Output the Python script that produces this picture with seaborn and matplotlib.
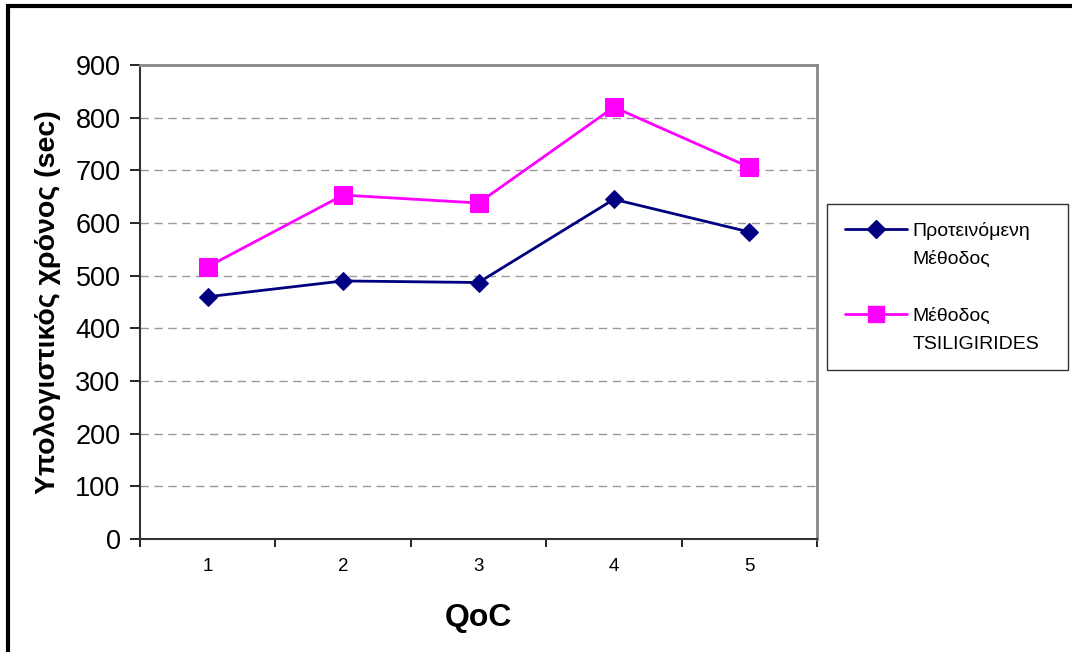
import matplotlib
matplotlib.use("Agg")
import matplotlib.pyplot as plt
import seaborn as sns
import pandas as pd
from matplotlib.patches import Rectangle
from matplotlib.lines import Line2D
from matplotlib.ticker import FixedLocator, NullFormatter

qoc = [1, 2, 3, 4, 5]
proposed = [460, 490, 487, 645, 583]
tsiligirides = [517, 653, 638, 820, 706]
series_names = ["Προτεινόμενη Μέθοδος", "Μέθοδος TSILIGIRIDES"]
legend_lines = [["Προτεινόμενη", "Μέθοδος"], ["Μέθοδος", "TSILIGIRIDES"]]
yticks = [0, 100, 200, 300, 400, 500, 600, 700, 800, 900]

df = pd.DataFrame({
    "QoC": qoc * 2,
    "value": proposed + tsiligirides,
    "series": [series_names[0]] * 5 + [series_names[1]] * 5,
})

sns.set_theme(style="white")
plt.rcParams["font.family"] = ["Liberation Sans", "DejaVu Sans"]
for k in ["text.color", "axes.labelcolor", "xtick.color", "ytick.color"]:
    plt.rcParams[k] = "black"

fig = plt.figure(figsize=(10.72, 6.52), dpi=100)
ax = fig.add_axes([140 / 1072, 1 - 539 / 652, (817 - 140) / 1072, (539 - 65) / 652])

palette = {series_names[0]: "#000080", series_names[1]: "#FF00FF"}
markers = {series_names[0]: "D", series_names[1]: "s"}
sizes_ms = {series_names[0]: 9.5, series_names[1]: 13}

for name in series_names:
    sub = df[df["series"] == name]
    sns.lineplot(data=sub, x="QoC", y="value", ax=ax, color=palette[name],
                 marker=markers[name], markersize=sizes_ms[name],
                 markeredgecolor=palette[name], linewidth=2.0, legend=False)

ax.set_xlim(0.5, 5.5)
ax.set_ylim(0, 900)
ax.set_yticks(yticks)
ax.set_yticklabels([str(v) for v in yticks], fontsize=19.5)
ax.set_xticks(qoc)
ax.set_xticklabels([str(v) for v in qoc], fontsize=13.5)
ax.tick_params(axis="x", which="major", length=0, pad=14)
ax.xaxis.set_minor_locator(FixedLocator([0.5, 1.5, 2.5, 3.5, 4.5, 5.5]))
ax.xaxis.set_minor_formatter(NullFormatter())
ax.tick_params(axis="x", which="minor", direction="out", length=6, width=1.2,
               color="black", bottom=True)
ax.tick_params(axis="y", which="major", direction="out", length=7, width=1.2,
               color="black", left=True, pad=7)

ax.grid(axis="y", linestyle=(0, (6, 4)), color="#999999", linewidth=1.0)
ax.grid(axis="x", visible=False)

ax.spines["left"].set_color("#333333")
ax.spines["bottom"].set_color("#333333")
ax.spines["left"].set_linewidth(1.5)
ax.spines["bottom"].set_linewidth(1.5)
ax.spines["top"].set_color("#888888")
ax.spines["right"].set_color("#888888")
ax.spines["top"].set_linewidth(2.0)
ax.spines["right"].set_linewidth(2.0)

ax.set_xlabel("QoC", fontsize=23, fontweight="bold", labelpad=20)
ax.set_ylabel("Υπολογιστικός χρόνος (sec)", fontsize=20.5, fontweight="bold", labelpad=10)

# legend: handle aligned with first line of each label, as in the reference
h1 = Line2D([], [], color=palette[series_names[0]], marker="D", markersize=9,
            linewidth=2.0, markeredgecolor=palette[series_names[0]])
h2 = Line2D([], [], color=palette[series_names[1]], marker="s", markersize=11.5,
            linewidth=2.0, markeredgecolor=palette[series_names[1]])
blank = Line2D([], [], color="none")
handles = [h1, blank, blank, h2, blank]
labels = [legend_lines[0][0], legend_lines[0][1], " ", legend_lines[1][0], legend_lines[1][1]]
leg = ax.legend(handles, labels, loc="upper left",
                bbox_to_anchor=(827 / 1072, 1 - 370 / 652, 241 / 1072, 166 / 652),
                bbox_transform=fig.transFigure, mode="expand", borderaxespad=0,
                fontsize=14, frameon=True, fancybox=False, edgecolor="black",
                handlelength=3.2, handletextpad=0.3, labelspacing=0.55,
                borderpad=0.9)
leg.get_frame().set_linewidth(1.0)

# outer chart frame (top & left visible)
fig.patches.append(Rectangle((8 / 1072, -0.2), 1.2, 1.2 - 6 / 652,
                             transform=fig.transFigure, fill=False,
                             edgecolor="black", linewidth=3))

fig.savefig("out.png", dpi=100)
